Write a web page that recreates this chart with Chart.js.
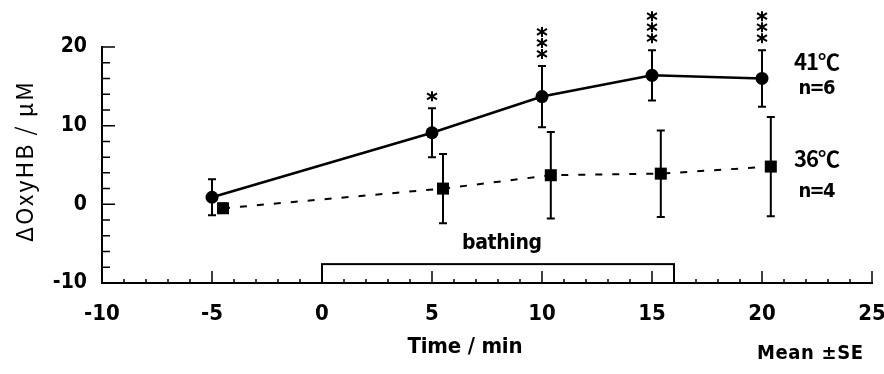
<!DOCTYPE html>
<html>
<head>
<meta charset="utf-8">
<script src="https://cdn.jsdelivr.net/npm/chart.js@4.4.0/dist/chart.umd.min.js"></script>
<style>
  html, body { margin: 0; padding: 0; background: #fff; }
  #wrap { width: 884px; height: 374px; }
</style>
</head>
<body>
<div id="wrap"><canvas id="c" width="884" height="374"></canvas></div>
<script>
// 41°C group (n=6)
const timeHot = [-5, 5, 10, 15, 20];
const meanHot = [0.9, 9.1, 13.7, 16.4, 16.0];
const seHot = [2.3, 3.1, 3.9, 3.2, 3.6];
const starsHot = [0, 1, 3, 3, 3];
// 36°C group (n=4)
const timeWarm = [-4.5, 5.5, 10.4, 15.4, 20.4];
const meanWarm = [-0.5, 2.0, 3.7, 3.9, 4.8];
const seWarm = [0.6, 4.4, 5.5, 5.5, 6.3];
// bathing period (min) and box height (µM)
const bathingSpan = [0, 16];
const bathingTop = -7.6;

const FONT = "'Liberation Sans Narrow', 'DejaVu Sans Condensed', 'Noto Sans CJK JP', sans-serif";
const JFONT = "'Noto Sans CJK JP', 'DejaVu Sans Condensed', sans-serif";

// draw text stretched/squeezed to a given width with letter spacing
function fitText(ctx, str, cx, cy, font, width) {
  ctx.font = font;
  ctx.letterSpacing = '0px';
  const w = ctx.measureText(str).width;
  const n = [...str].length;
  const ls = n > 1 ? (width - w) / (n - 1) : 0;
  ctx.letterSpacing = ls + 'px';
  ctx.textAlign = 'left';
  ctx.textBaseline = 'middle';
  ctx.fillText(str, cx - width / 2, cy);
  ctx.letterSpacing = '0px';
}

function star(ctx, x, y) {
  const r = 5;
  ctx.beginPath();
  ctx.moveTo(x, y - r); ctx.lineTo(x, y + r);
  ctx.moveTo(x - r, y - r * 0.6); ctx.lineTo(x + r, y + r * 0.6);
  ctx.moveTo(x + r, y - r * 0.6); ctx.lineTo(x - r, y + r * 0.6);
  ctx.stroke();
}

const extras = {
  id: 'extras',
  beforeDatasetsDraw(chart) {
    const ctx = chart.ctx, xs = chart.scales.x, ys = chart.scales.y;
    ctx.save();
    ctx.strokeStyle = '#000';
    ctx.lineWidth = 2;
    const bars = (t, m, s) => {
      t.forEach((v, i) => {
        const x = xs.getPixelForValue(v);
        const y1 = ys.getPixelForValue(m[i] + s[i]);
        const y2 = ys.getPixelForValue(m[i] - s[i]);
        ctx.beginPath();
        ctx.moveTo(x, y1); ctx.lineTo(x, y2);
        ctx.moveTo(x - 4, y1); ctx.lineTo(x + 4, y1);
        ctx.moveTo(x - 4, y2); ctx.lineTo(x + 4, y2);
        ctx.stroke();
      });
    };
    bars(timeHot, meanHot, seHot);
    bars(timeWarm, meanWarm, seWarm);
    ctx.restore();
  },
  afterDraw(chart) {
    const ctx = chart.ctx, xs = chart.scales.x, ys = chart.scales.y;
    const area = chart.chartArea;
    ctx.save();
    ctx.strokeStyle = '#000';
    ctx.fillStyle = '#000';

    // bathing box
    ctx.lineWidth = 2;
    const bx0 = xs.getPixelForValue(bathingSpan[0]);
    const bx1 = xs.getPixelForValue(bathingSpan[1]);
    const by0 = ys.getPixelForValue(bathingTop);
    const by1 = ys.getPixelForValue(-10);
    ctx.strokeRect(bx0, by0, bx1 - bx0, by1 - by0);

    // inward minor/major ticks
    ctx.lineWidth = 1.5;
    ctx.beginPath();
    for (let v = -9; v <= 25; v++) {
      const x = xs.getPixelForValue(v);
      const len = v % 5 === 0 ? 12 : 4;
      ctx.moveTo(x, area.bottom); ctx.lineTo(x, area.bottom - len);
    }
    for (let v = -8; v <= 20; v += 2) {
      const y = ys.getPixelForValue(v);
      const len = v % 10 === 0 ? 13 : 8;
      ctx.moveTo(area.left, y); ctx.lineTo(area.left + len, y);
    }
    ctx.stroke();

    // significance stars
    ctx.lineWidth = 2;
    timeHot.forEach((t, i) => {
      const x = xs.getPixelForValue(t);
      const top = ys.getPixelForValue(meanHot[i] + seHot[i]);
      for (let k = 0; k < starsHot[i]; k++) star(ctx, x, top - 12 - k * 11);
    });

    // texts
    const f = (w, s, fam) => w + ' ' + s + 'px ' + fam;
    fitText(ctx, 'bathing', (bx0 + bx1) / 2 + 4, 244, f('bold', 21, FONT), 80);
    fitText(ctx, 'Time / min', 465, 347, f('bold', 22, FONT), 115);
    fitText(ctx, 'Mean ±SE', 810, 354, f('bold', 20, FONT), 106);
    fitText(ctx, '41℃', 817, 62, f('bold', 22, JFONT), 46);
    fitText(ctx, 'n=6', 817, 89, f('bold', 20, FONT), 37);
    fitText(ctx, '36℃', 817, 159, f('bold', 22, JFONT), 46);
    fitText(ctx, 'n=4', 817, 192, f('bold', 20, FONT), 37);

    ctx.translate(24, 162);
    ctx.rotate(-Math.PI / 2);
    fitText(ctx, 'ΔOxyHB / μM', 0, 0, f(400, 23, JFONT), 160);
    ctx.restore();
  }
};

new Chart(document.getElementById('c'), {
  type: 'scatter',
  data: {
    datasets: [
      {
        label: '41℃',
        data: timeHot.map((t, i) => ({ x: t, y: meanHot[i] })),
        showLine: true,
        borderColor: '#000',
        backgroundColor: '#000',
        borderWidth: 2.5,
        pointStyle: 'circle',
        pointRadius: 6.5,
        pointBorderWidth: 0,
      },
      {
        label: '36℃',
        data: timeWarm.map((t, i) => ({ x: t, y: meanWarm[i] })),
        showLine: true,
        borderColor: '#000',
        backgroundColor: '#000',
        borderWidth: 2,
        borderDash: [7, 10],
        pointStyle: 'rect',
        pointRadius: 8.5,
        pointBorderWidth: 0,
      },
    ],
  },
  options: {
    responsive: false,
    animation: false,
    layout: { padding: { top: 47, right: 12, left: 0, bottom: 0 } },
    plugins: { legend: { display: false }, tooltip: { enabled: false } },
    scales: {
      x: {
        type: 'linear',
        min: -10,
        max: 25,
        afterFit: (s) => { s.height = 91; s.paddingLeft = 0; s.paddingRight = 0; },
        grid: { display: false, drawTicks: false },
        border: { display: true, color: '#000', width: 2 },
        ticks: {
          stepSize: 5,
          color: '#000',
          padding: 18,
          font: { family: FONT, size: 22, weight: 'bold' },
        },
      },
      y: {
        min: -10,
        max: 20,
        afterFit: (s) => { s.width = 102; s.paddingTop = 0; s.paddingBottom = 0; },
        grid: { display: false, drawTicks: false },
        border: { display: true, color: '#000', width: 2 },
        ticks: {
          stepSize: 10,
          color: '#000',
          padding: 15,
          font: { family: FONT, size: 21, weight: 'bold' },
        },
      },
    },
  },
  plugins: [extras],
});
</script>
</body>
</html>
